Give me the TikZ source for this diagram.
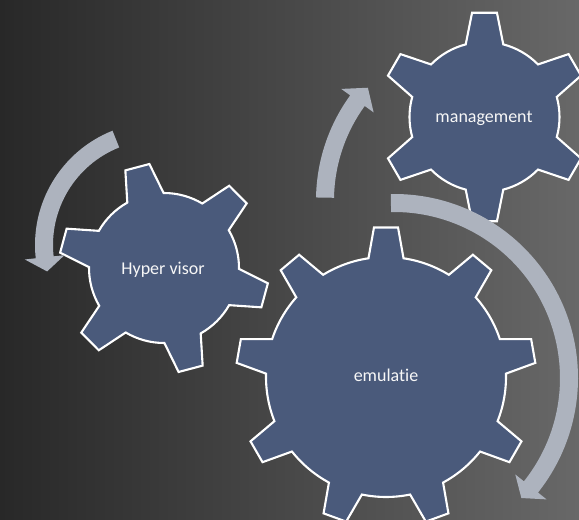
\documentclass[tikz,border=0pt]{standalone}
\usepackage{fontspec}
\setmainfont{Carlito}[Ligatures=NoCommon]

\definecolor{bgdark}{HTML}{282828}
\definecolor{bgmid}{HTML}{4A4A4A}
\definecolor{bglight}{HTML}{686868}
\definecolor{gearblue}{HTML}{4A5A7B}
\definecolor{turngray}{HTML}{ADB3BE}

% gear: center, teeth, outer r, inner r, first tooth angle, tip half angle, base half angle
\newcommand{\gearshape}[7]{%
  \pgfmathsetmacro{\gstep}{360/#2}
  \draw[gearbody, shift={(#1)}] ({#5-\gstep+#7}:#4)
    \foreach \k in {1,...,#2} {
      arc[start angle={#5+(\k-2)*\gstep+#7}, end angle={#5+(\k-1)*\gstep-#7}, radius=#4]
      -- ({#5+(\k-1)*\gstep-#6}:#3) -- ({#5+(\k-1)*\gstep+#6}:#3)
      -- ({#5+(\k-1)*\gstep+#7}:#4)
    } -- cycle;
}

% circular arrow: center, radius, start angle, head base angle, tip angle
\newcommand{\turnarrow}[5]{%
  \fill[turn, shift={(#1)}] ({#3}:{#2+9}) arc[start angle=#3, end angle=#4, radius=#2+9]
    -- ({#4}:{#2+20}) -- ({#5}:{#2}) -- ({#4}:{#2-20}) -- ({#4}:{#2-9})
    arc[start angle=#4, end angle=#3, radius=#2-9] -- cycle;
}

\begin{document}
\begin{tikzpicture}[x=1pt, y=1pt,
        gearbody/.style={fill=gearblue, draw=white, line width=2.1pt, line join=miter},
        turn/.style={fill=turngray},
        label/.style={text=white!94!gray, font=\fontsize{18}{20}\selectfont}]
\useasboundingbox (0,0) rectangle (579,520);
\clip (0,0) rectangle (579,520);
\shade[left color=bgdark, middle color=bgmid, right color=bglight] (0,0) rectangle (579,520);

\coordinate (hv) at (164,252);
\coordinate (mg) at (484.5,403);
\coordinate (em) at (386,143);

% gears
\gearshape{hv}{6}{105}{75}{104.8}{6.8}{14.5}
\gearshape{mg}{6}{105}{75}{90}{6.8}{14.5}
\gearshape{em}{9}{150}{120}{90}{4.6}{8.4}

% arrows
\turnarrow{158,275}{114}{111.7}{186.2}{193.4}
\turnarrow{495,319.4}{170}{179}{144}{138.4}
\turnarrow{394,142}{175}{91}{-38.5}{-43.3}

\node[label] (hyper) at (163,250) {Hyper visor};
\node[label] (manage) at (484,402) {management};
\node[label] (emul) at (386,145) {emulatie};

\end{tikzpicture}
\end{document}
